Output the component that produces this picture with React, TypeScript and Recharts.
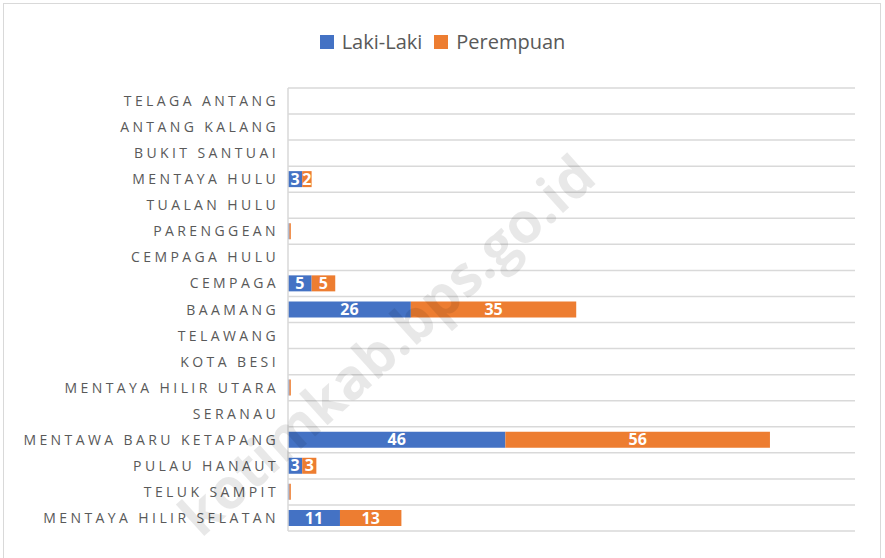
import { BarChart, Bar, XAxis, YAxis, CartesianGrid, Legend, LabelList } from "recharts";

const kecamatan = [
  "TELAGA ANTANG",
  "ANTANG KALANG",
  "BUKIT SANTUAI",
  "MENTAYA HULU",
  "TUALAN HULU",
  "PARENGGEAN",
  "CEMPAGA HULU",
  "CEMPAGA",
  "BAAMANG",
  "TELAWANG",
  "KOTA BESI",
  "MENTAYA HILIR UTARA",
  "SERANAU",
  "MENTAWA BARU KETAPANG",
  "PULAU HANAUT",
  "TELUK SAMPIT",
  "MENTAYA HILIR SELATAN",
];

const lakiLaki = [0, 0, 0, 3, 0, 0.3, 0, 5, 26, 0, 0, 0.3, 0, 46, 3, 0.3, 11];
const perempuan = [0, 0, 0, 2, 0, 0.3, 0, 5, 35, 0, 0, 0.3, 0, 56, 3, 0.3, 13];

const seriesNames = { laki: "Laki-Laki", perempuan: "Perempuan" };

const BLUE = "#4472C4";
const ORANGE = "#ED7D31";
const FONT = "'Open Sans', 'DejaVu Sans', sans-serif";

const data = kecamatan.map((name, i) => ({
  name,
  laki: lakiLaki[i],
  perempuan: perempuan[i],
}));

const CategoryTick = ({ x, y, payload }: any) => (
  <text
    x={x - 1}
    y={y}
    dy={5}
    textAnchor="end"
    fill="#595959"
    fontSize={14}
    letterSpacing={3.4}
    fontFamily={FONT}
  >
    {payload.value}
  </text>
);

const LegendContent = () => (
  <div
    style={{
      display: "flex",
      justifyContent: "center",
      alignItems: "center",
      fontFamily: FONT,
      fontSize: 20,
      color: "#595959",
      gap: 8,
      height: 27,
    }}
  >
    <span style={{ display: "inline-block", width: 14, height: 14, background: BLUE }} />
    <span>{seriesNames.laki}</span>
    <span style={{ display: "inline-block", width: 14, height: 14, background: ORANGE, marginLeft: 4 }} />
    <span>{seriesNames.perempuan}</span>
  </div>
);

const showLabel = (v: any) => (typeof v === "number" && v >= 1 ? v : "");

// garis grid di batas kategori, bukan di tengah
const bandLines = ({ offset }: any) => {
  const n = kecamatan.length;
  const step = offset.height / n;
  return Array.from({ length: n + 1 }, (_, i) => offset.top + i * step);
};

export default function App() {
  return (
    <div
      style={{
        position: "absolute",
        left: 0,
        top: 0,
        width: 885,
        height: 558,
        background: "#fff",
        overflow: "hidden",
      }}
    >
      <div
        style={{
          position: "absolute",
          left: 3,
          top: 3,
          width: 878,
          height: 600,
          border: "1px solid #d9d9d9",
          boxSizing: "border-box",
        }}
      />
      <BarChart
        width={885}
        height={558}
        data={data}
        layout="vertical"
        barCategoryGap="19%"
        margin={{ top: 61, right: 30, bottom: 27, left: 0 }}
        style={{ position: "absolute", left: 0, top: 0 }}
      >
        <CartesianGrid
          vertical={false}
          stroke="#d9d9d9"
          strokeWidth={1.5}
          horizontalCoordinatesGenerator={bandLines}
        />
        <XAxis type="number" domain={[0, 120]} hide />
        <YAxis
          type="category"
          dataKey="name"
          width={288}
          tickLine={false}
          axisLine={{ stroke: "#d9d9d9", strokeWidth: 1.5 }}
          tick={<CategoryTick />}
          interval={0}
        />
        <Legend verticalAlign="top" wrapperStyle={{ top: 28, left: 0, width: 885 }} content={<LegendContent />} />
        <Bar dataKey="laki" name={seriesNames.laki} stackId="a" fill={BLUE} isAnimationActive={false}>
          <LabelList
            dataKey="laki"
            position="center"
            formatter={showLabel}
            fill="#fff"
            fontSize={16}
            fontWeight="bold"
            fontFamily={FONT}
          />
        </Bar>
        <Bar dataKey="perempuan" name={seriesNames.perempuan} stackId="a" fill={ORANGE} isAnimationActive={false}>
          <LabelList
            dataKey="perempuan"
            position="center"
            formatter={showLabel}
            fill="#fff"
            fontSize={16}
            fontWeight="bold"
            fontFamily={FONT}
          />
        </Bar>
      </BarChart>
      <svg
        width={885}
        height={558}
        style={{ position: "absolute", left: 0, top: 0, pointerEvents: "none" }}
      >
        <text
          x={400}
          y={360}
          textAnchor="middle"
          transform="rotate(-42 400 360)"
          fill="#000"
          fillOpacity={0.09}
          fontSize={56}
          fontWeight="bold"
          fontFamily={FONT}
        >
          kotimkab.bps.go.id
        </text>
      </svg>
    </div>
  );
}
